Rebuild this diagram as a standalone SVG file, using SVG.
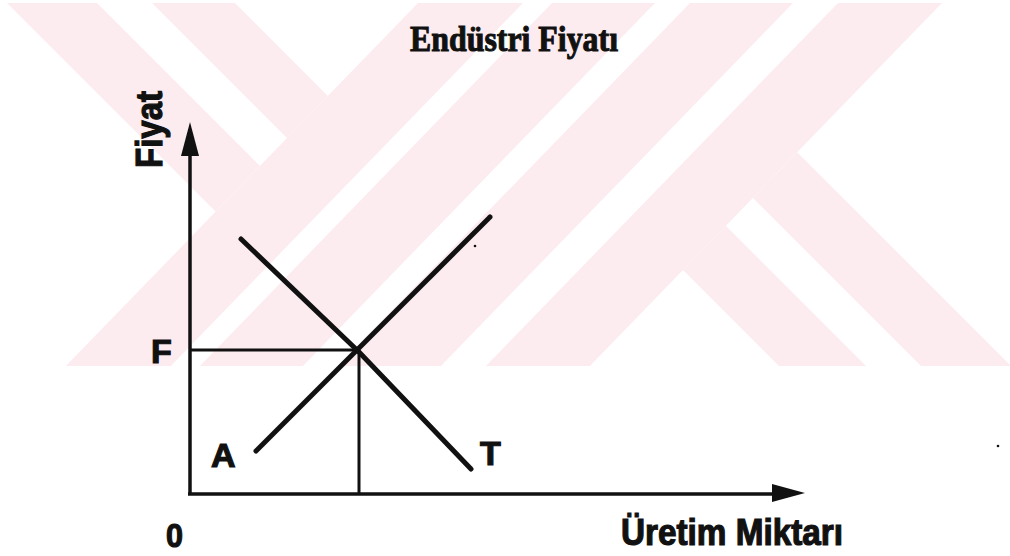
<svg xmlns="http://www.w3.org/2000/svg" width="1010" height="556" viewBox="0 0 1010 556">
  <style>
    .wm { fill: #fdecef; stroke: none; }
    .axis { stroke: #111; stroke-width: 3.5; fill: none; }
    .guide { stroke: #111; stroke-width: 3; fill: none; }
    .curve { stroke: #111; stroke-width: 5; fill: none; stroke-linecap: round; stroke-linejoin: round; }
    .lbl { font-family: "Liberation Sans", Arial, sans-serif; font-weight: 900; fill: #111; stroke: #111; stroke-width: 1.2; }
    .title { font-family: "Liberation Serif", "Times New Roman", serif; font-weight: bold; fill: #111; stroke: #111; stroke-width: 1; }
  </style>
  <rect width="1010" height="556" fill="#ffffff"/>

  <g id="watermark">
    <polygon class="wm" points="7,3 97,3 259.9,165.9 215.6,211.6"/>
    <polygon class="wm" points="152,3 235,3 327.9,95.9 287,138"/>
    <polygon class="wm" points="418,3 523,3 170.9,366 65.9,366"/>
    <polygon class="wm" points="552,3 655,3 302.9,366 199.9,366"/>
    <polygon class="wm" points="690,3 793,3 440.9,366 337.9,366"/>
    <polygon class="wm" points="838,3 942,3 589.9,366 485.9,366"/>
    <polygon class="wm" points="797.2,152.2 1011,366 921,366 752.9,197.9"/>
    <polygon class="wm" points="725.8,225.8 866,366 779,366 683,270"/>
  </g>

  <g id="connectors">
    <line class="axis" x1="190" y1="495" x2="190" y2="150"/>
    <polygon points="190,122 181,156 199,156" fill="#111"/>
    <line class="axis" x1="188" y1="494" x2="776" y2="494"/>
    <polygon points="805,493 772,484 772,502" fill="#111"/>
    <line class="guide" x1="190" y1="350" x2="359" y2="350"/>
    <line class="guide" x1="359" y1="350" x2="359" y2="494"/>
    <path id="line-A" class="curve" d="M256,451 L490,217"/>
    <path id="line-T" class="curve" d="M241,239 L358,351 L471,469"/>
    <circle cx="475" cy="246" r="1.3" fill="#111"/>
    <circle cx="998" cy="446" r="1.3" fill="#111"/>
  </g>

  <g id="title">
    <text class="title" x="410" y="51" font-size="35" textLength="208" lengthAdjust="spacingAndGlyphs">Endüstri Fiyatı</text>
  </g>
  <g id="label-y">
    <text class="lbl" transform="translate(162,168) rotate(-90)" x="0" y="0" font-size="36" textLength="77" lengthAdjust="spacingAndGlyphs">Fiyat</text>
  </g>
  <g id="label-x">
    <text class="lbl" x="621" y="545" font-size="36" textLength="222" lengthAdjust="spacingAndGlyphs">Üretim Miktarı</text>
  </g>
  <g id="label-F">
    <text class="lbl" x="151" y="363" font-size="34">F</text>
  </g>
  <g id="label-A">
    <text class="lbl" x="211" y="467" font-size="34">A</text>
  </g>
  <g id="label-T">
    <text class="lbl" x="480" y="465" font-size="34">T</text>
  </g>
  <g id="label-0">
    <text class="lbl" x="166" y="547" font-size="34" textLength="17" lengthAdjust="spacingAndGlyphs">0</text>
  </g>
</svg>
